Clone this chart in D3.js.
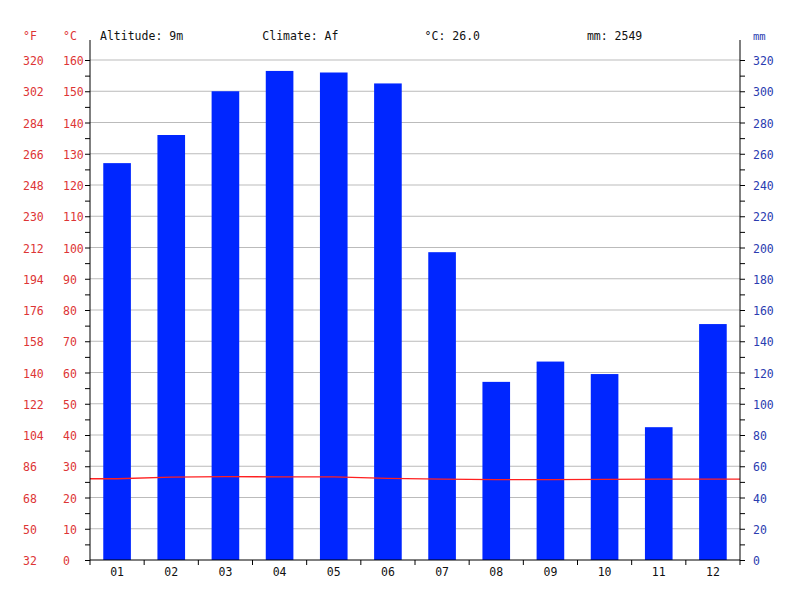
<!DOCTYPE html>
<html>
<head>
<meta charset="utf-8">
<script src="https://cdn.jsdelivr.net/npm/d3@7"></script>
<style>
	body { margin:0; background:#fff; }
	text { font-family:"DejaVu Sans Mono", monospace; font-size:11.5px; }
</style>
</head>
<body>
<svg id="chart" width="800" height="600"></svg>
<script>
var months = ["01","02","03","04","05","06","07","08","09","10","11","12"];
var precipitation = [254,272,300,313,312,305,197,114,127,119,85,151];
var temperature = [26.0,26.5,26.7,26.6,26.6,26.1,25.9,25.7,25.7,25.8,25.9,25.9];
var celsiusTicks = [0,10,20,30,40,50,60,70,80,90,100,110,120,130,140,150,160];
var mmTicks = [0,20,40,60,80,100,120,140,160,180,200,220,240,260,280,300,320];
var headerLabels = ["Altitude: 9m","Climate: Af","°C: 26.0","mm: 2549"];

var svg = d3.select("#chart");
var plotLeft = 90, plotRight = 740, plotTop = 60, plotBottom = 560;
var red = "#dd3535", blue = "#2a3cb0";

var x = d3.scaleBand().domain(months).range([plotLeft,plotRight]);
var yC = d3.scaleLinear().domain([0,160]).range([plotBottom,plotTop]);
var yMM = d3.scaleLinear().domain([0,320]).range([plotBottom,plotTop]);

// grid
svg.append("g").selectAll("line").data(celsiusTicks.slice(1)).enter().append("line")
	.attr("x1",plotLeft).attr("x2",plotRight)
	.attr("y1",function(d){ return yC(d); })
	.attr("y2",function(d){ return yC(d); })
	.attr("stroke","#bbb")
	.attr("stroke-width",1);

// precipitation bars
svg.append("g").selectAll("rect").data(precipitation).enter().append("rect")
	.attr("x",function(d,i){ return x(months[i]) + x.bandwidth()*0.245; })
	.attr("width",x.bandwidth()*0.51)
	.attr("y",function(d){ return yMM(d); })
	.attr("height",function(d){ return plotBottom - yMM(d); })
	.attr("fill","#0026ff");

// temperature line, stretched to the plot edges
var linePts = [[plotLeft,temperature[0]]]
	.concat(temperature.map(function(d,i){ return [x(months[i]) + x.bandwidth()/2, d]; }))
	.concat([[plotRight,temperature[temperature.length-1]]]);

svg.append("path")
	.datum(linePts)
	.attr("d",d3.line().x(function(d){ return d[0]; }).y(function(d){ return yC(d[1]); }))
	.attr("fill","none")
	.attr("stroke","#ff2020")
	.attr("stroke-width",1.3);

// axes (ticks only, the lines are drawn below)
var leftAxis = svg.append("g").attr("transform","translate("+plotLeft+",0)")
	.call(d3.axisLeft(yC).tickValues(d3.range(0,161,5)).tickSize(5).tickFormat(""));
var rightAxis = svg.append("g").attr("transform","translate("+plotRight+",0)")
	.call(d3.axisRight(yMM).tickValues(d3.range(0,321,10)).tickSize(5).tickFormat(""));

[leftAxis,rightAxis].forEach(function(a)
{
	a.select(".domain").remove();
	a.selectAll("line").attr("stroke","#000");
});

svg.append("line").attr("x1",plotLeft).attr("x2",plotLeft).attr("y1",40).attr("y2",plotBottom).attr("stroke","#000");
svg.append("line").attr("x1",plotRight).attr("x2",plotRight).attr("y1",40).attr("y2",plotBottom).attr("stroke","#000");
svg.append("line").attr("x1",plotLeft).attr("x2",plotRight).attr("y1",plotBottom).attr("y2",plotBottom).attr("stroke","#000");

// month boundary ticks
svg.append("g").selectAll("line").data(months.concat(["end"])).enter().append("line")
	.attr("x1",function(d,i){ return plotLeft + i*x.step(); })
	.attr("x2",function(d,i){ return plotLeft + i*x.step(); })
	.attr("y1",plotBottom).attr("y2",plotBottom+5)
	.attr("stroke","#000");

svg.append("g").selectAll("text").data(months).enter().append("text")
	.text(function(d){ return d; })
	.attr("x",function(d){ return x(d) + x.bandwidth()/2; })
	.attr("y",plotBottom+16)
	.attr("text-anchor","middle")
	.attr("fill","#111");

// celsius and fahrenheit labels
svg.append("g").selectAll("text").data(celsiusTicks).enter().append("text")
	.text(function(d){ return d; })
	.attr("x",63)
	.attr("y",function(d){ return yC(d) + 5; })
	.attr("fill",red);

svg.append("g").selectAll("text").data(celsiusTicks).enter().append("text")
	.text(function(d){ return Math.round(d*1.8 + 32); })
	.attr("x",23)
	.attr("y",function(d){ return yC(d) + 5; })
	.attr("fill",red);

svg.append("g").selectAll("text").data(mmTicks).enter().append("text")
	.text(function(d){ return d; })
	.attr("x",753)
	.attr("y",function(d){ return yMM(d) + 5; })
	.attr("fill",blue);

svg.append("text").text("°F").attr("x",23).attr("y",40).attr("fill",red);
svg.append("text").text("°C").attr("x",63).attr("y",40).attr("fill",red);
svg.append("text").text("mm").attr("x",753).attr("y",40).attr("fill",blue).style("font-size","10.5px");

// header
svg.append("g").selectAll("text").data(headerLabels).enter().append("text")
	.text(function(d){ return d; })
	.attr("x",function(d,i){ return 100 + i*162.3; })
	.attr("y",40)
	.attr("fill","#111");
</script>
</body>
</html>
